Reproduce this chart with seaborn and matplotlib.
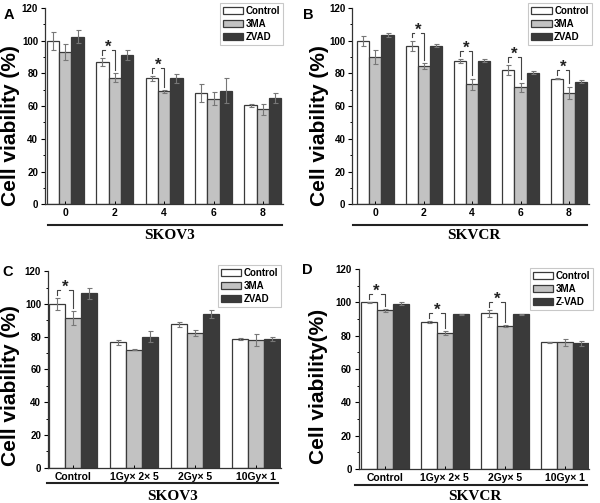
import pandas as pd
import matplotlib.pyplot as plt
import seaborn as sns
import numpy as np
from matplotlib.ticker import MultipleLocator

# ---- data ----
groups = ["Control", "3MA", "ZVAD"]
groups_d = ["Control", "3MA", "Z-VAD"]
doses = ["0", "2", "4", "6", "8"]
radiation = ["Control", "1Gy\u00d7 2\u00d7 5", "2Gy\u00d7 5", "10Gy\u00d7 1"]

a_ctrl = [100, 87, 77, 68, 60.5]
a_3ma = [93, 77.5, 69, 64.5, 58]
a_zvad = [102.5, 91.5, 77, 69.5, 65]
a_ctrl_err = [5.5, 2.5, 1.5, 5.5, 0.8]
a_3ma_err = [5, 2.5, 1, 4, 3.5]
a_zvad_err = [3.8, 3, 2.7, 7.5, 3]

b_ctrl = [100, 97, 87.5, 82, 76.8]
b_3ma = [90, 84.5, 73.5, 71.5, 68.2]
b_zvad = [103.3, 97, 87.8, 80.5, 75]
b_ctrl_err = [3, 3, 1.2, 3.2, 0.3]
b_3ma_err = [4.5, 1.8, 3.4, 2.8, 3.8]
b_zvad_err = [1.3, 1, 1, 1, 1]

c_ctrl = [100, 76.5, 87.6, 78.6]
c_3ma = [91.3, 72, 82.2, 78]
c_zvad = [106.5, 80, 94, 78.5]
c_ctrl_err = [3.5, 1.7, 1.4, 0.8]
c_3ma_err = [4.4, 0.3, 2, 3.5]
c_zvad_err = [3.3, 3.3, 2.5, 1.3]

d_ctrl = [100, 88, 93.5, 76]
d_3ma = [95.2, 81.6, 85.8, 76]
d_zvad = [99.2, 93, 92.8, 75.4]
d_ctrl_err = [0.3, 0.6, 2, 0.3]
d_3ma_err = [0.8, 1.2, 0.5, 2]
d_zvad_err = [0.9, 0.3, 0.4, 1.6]

# groups (index) with Control vs 3MA significance star
a_sig = [1, 2]
b_sig = [1, 2, 3, 4]
c_sig = [0]
d_sig = [0, 1, 2]

colors = ["#ffffff", "#c2c2c2", "#3a3a3a"]
edge = "#3a3a3a"

plt.rcParams['font.family'] = ['Liberation Sans', 'DejaVu Sans']
fig = plt.figure(figsize=(6, 5.03), dpi=100)


def panel(rect, cats, labels, vals, errs, sig, width, xlim, ylabel, lab_xy,
          line_y, line_x, cell, cell_xy, leg_anchor):
    ax = fig.add_axes(rect)
    df = pd.DataFrame({
        "x": np.tile(cats, 3),
        "group": np.repeat(labels, len(cats)),
        "value": np.concatenate(vals),
    })
    sns.barplot(data=df, x="x", y="value", hue="group", order=cats,
                hue_order=labels, palette=colors, edgecolor=edge,
                linewidth=0.9, width=width, gap=0, errorbar=None, ax=ax)
    # error bars from the drawn bars
    for cont, err in zip(ax.containers, errs):
        xs = [p.get_x() + p.get_width() / 2 for p in cont.patches]
        hs = [p.get_height() for p in cont.patches]
        ax.errorbar(xs, hs, yerr=err, fmt="none", ecolor="#777777",
                    elinewidth=0.8, capsize=1.8, capthick=0.8)
    # significance brackets Control vs 3MA
    c0 = ax.containers[0].patches
    c1 = ax.containers[1].patches
    for i in sig:
        x0 = c0[i].get_x() + c0[i].get_width() / 2
        x1 = c1[i].get_x() + c1[i].get_width() / 2
        y0 = vals[0][i] + errs[0][i]
        y1 = vals[1][i] + errs[1][i]
        top = max(y0, y1) + 5
        span = x1 - x0
        kw = dict(color="#444444", lw=0.8)
        ax.plot([x0, x0, x0 + 0.22 * span], [y0 + 2, top, top], **kw)
        ax.plot([x1 - 0.22 * span, x1, x1], [top, top, y1 + 2], **kw)
        ax.text((x0 + x1) / 2, top + 1.5, "*", ha="center", va="center",
                fontsize=12, fontweight="bold", color="#222222")

    ax.set_ylim(0, 120)
    ax.set_xlim(*xlim)
    ax.yaxis.set_major_locator(MultipleLocator(20))
    ax.yaxis.set_minor_locator(MultipleLocator(10))
    ax.tick_params(axis="y", which="major", direction="out", length=3,
                   width=0.8, labelsize=7, pad=2)
    ax.tick_params(axis="y", which="minor", direction="out", length=1.8,
                   width=0.7)
    ax.tick_params(axis="x", direction="in", length=2, width=0.7,
                   labelsize=7.5, pad=3)
    for t in ax.get_xticklabels() + ax.get_yticklabels():
        t.set_fontweight("bold")
    ax.spines[["top", "right"]].set_visible(False)
    for s in ["left", "bottom"]:
        ax.spines[s].set_color("#333333")
        ax.spines[s].set_linewidth(0.9)
    ax.set_xlabel("")
    ax.set_ylabel(ylabel, fontsize=15, fontweight="bold")
    ax.yaxis.set_label_coords(*lab_xy)

    leg = ax.legend(loc="upper right", bbox_to_anchor=leg_anchor,
                    fontsize=7, frameon=True, fancybox=False,
                    handlelength=2.1, handleheight=0.8, handletextpad=0.25,
                    labelspacing=0.3, borderpad=0.3, borderaxespad=0)
    leg.get_frame().set_edgecolor("#bbbbbb")
    leg.get_frame().set_linewidth(0.8)
    for t in leg.get_texts():
        t.set_fontweight("bold")

    ax.plot(line_x, [line_y, line_y], transform=ax.transAxes,
            color="#222222", lw=1.5, clip_on=False)
    ax.text(cell_xy[0], cell_xy[1], cell, transform=ax.transAxes,
            ha="center", va="center", fontsize=11, fontweight="bold",
            family=["Liberation Serif", "DejaVu Serif"])
    return ax


panel([0.075, 0.594, 0.397, 0.390], doses, groups,
      [a_ctrl, a_3ma, a_zvad], [a_ctrl_err, a_3ma_err, a_zvad_err], a_sig,
      0.75, (-0.41, 4.41), "Cell viability (%)", (-0.104, 0.40),
      -0.107, [0.013, 0.996], "SKOV3", (0.525, -0.158), (1.0, 1.026))

panel([0.587, 0.594, 0.395, 0.390], doses, groups,
      [b_ctrl, b_3ma, b_zvad], [b_ctrl_err, b_3ma_err, b_zvad_err], b_sig,
      0.75, (-0.48, 4.42), "Cell viability (%)", (-0.098, 0.40),
      -0.107, [0.004, 0.992], "SKVCR", (0.515, -0.158), (1.01, 1.026))

panel([0.080, 0.070, 0.388, 0.391], radiation, groups,
      [c_ctrl, c_3ma, c_zvad], [c_ctrl_err, c_3ma_err, c_zvad_err], c_sig,
      0.79, (-0.41, 3.41), "Cell viability (%)", (-0.12, 0.42),
      -0.076, [-0.004, 0.987], "SKOV3", (0.537, -0.147), (1.0, 1.03))

panel([0.598, 0.068, 0.384, 0.397], radiation, groups_d,
      [d_ctrl, d_3ma, d_zvad], [d_ctrl_err, d_3ma_err, d_zvad_err], d_sig,
      0.8, (-0.43, 3.4), "Cell viability(%)", (-0.132, 0.41),
      -0.082, [-0.017, 0.99], "SKVCR", (0.504, -0.138), (1.016, 1.005))

for letter, x, y in [("A", 0.015, 0.970), ("B", 0.513, 0.970),
                     ("C", 0.013, 0.459), ("D", 0.513, 0.463)]:
    fig.text(x, y, letter, fontsize=10.5, fontweight="bold",
             ha="center", va="center")

plt.savefig("out.png", dpi=100)
